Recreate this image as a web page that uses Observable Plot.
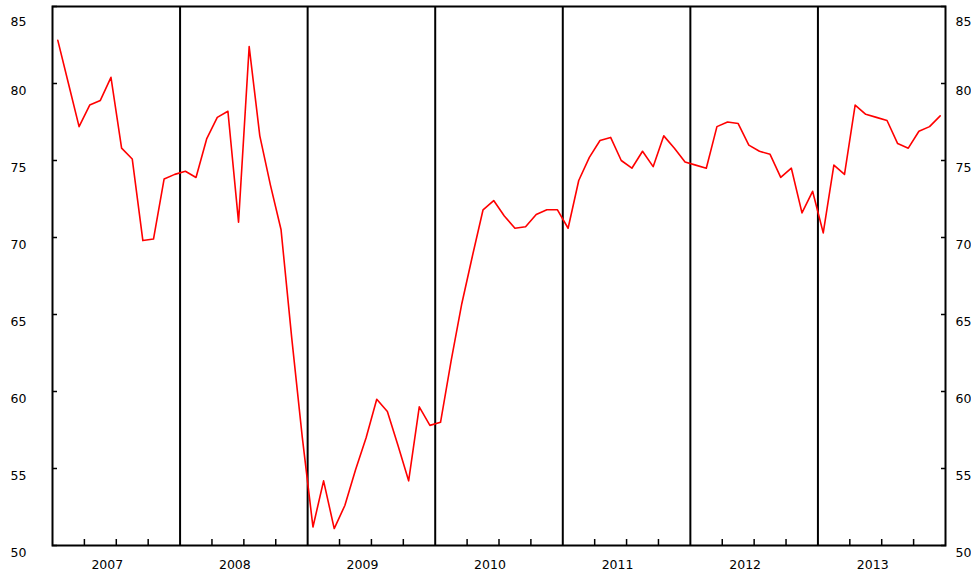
<!DOCTYPE html>
<html>
<head>
<meta charset="utf-8">
<script src="https://cdn.jsdelivr.net/npm/d3@7"></script>
<script src="https://cdn.jsdelivr.net/npm/@observablehq/plot@0.6"></script>
<style>
  html, body { margin: 0; padding: 0; background: #fff; }
  #chart svg { display: block; }
</style>
</head>
<body>
<div id="chart"></div>
<script>
// Monthly values, one array per year (Jan..Dec)
const years = [2007, 2008, 2009, 2010, 2011, 2012, 2013];
const v2007 = [82.8, 80.0, 77.2, 78.6, 78.9, 80.4, 75.8, 75.1, 69.8, 69.9, 73.8, 74.1];
const v2008 = [74.3, 73.9, 76.4, 77.8, 78.2, 71.0, 82.4, 76.6, 73.4, 70.5, 63.5, 57.0];
const v2009 = [51.2, 54.2, 51.1, 52.6, 54.9, 57.0, 59.5, 58.7, 56.5, 54.2, 59.0, 57.8];
const v2010 = [58.0, 62.0, 65.7, 68.8, 71.8, 72.4, 71.4, 70.6, 70.7, 71.5, 71.8, 71.8];
const v2011 = [70.6, 73.7, 75.2, 76.3, 76.5, 75.0, 74.5, 75.6, 74.6, 76.6, 75.8, 74.9];
const v2012 = [74.7, 74.5, 77.2, 77.5, 77.4, 76.0, 75.6, 75.4, 73.9, 74.5, 71.6, 73.0];
const v2013 = [70.3, 74.7, 74.1, 78.6, 78.0, 77.8, 77.6, 76.1, 75.8, 76.9, 77.2, 77.9];
const yTicks = [50, 55, 60, 65, 70, 75, 80];
const yTopTick = [85];

const series = [v2007, v2008, v2009, v2010, v2011, v2012, v2013];
const data = [];
years.forEach((yr, i) => series[i].forEach((v, m) => data.push({x: yr + (m + 0.5) / 12, v})));

const boundaries = years.slice(1);
const quarterTicks = years.flatMap(y => [y + 0.25, y + 0.5, y + 0.75]);
const yearMids = years.map(y => y + 0.5);
const allY = yTicks.concat(yTopTick);

const chart = Plot.plot({
  width: 971,
  height: 574,
  marginLeft: 52,
  marginRight: 26,
  marginTop: 6,
  marginBottom: 29,
  x: {domain: [2007, 2014]},
  y: {domain: [50, 85]},
  style: {fontFamily: "DejaVu Sans", fontSize: "12.5px", color: "#000", background: "#fff"},
  marks: [
    Plot.ruleX(boundaries, {stroke: "#000", strokeWidth: 2}),
    Plot.line(data, {x: "x", y: "v", stroke: "#ff0000", strokeWidth: 1.6}),
    Plot.frame({stroke: "#000", strokeWidth: 2}),
    // inward ticks
    Plot.axisY(allY, {anchor: "left", tickSize: 5, dx: 5, tickFormat: () => "", label: null, strokeWidth: 1.5}),
    Plot.axisY(allY, {anchor: "right", tickSize: 5, dx: -5, tickFormat: () => "", label: null, strokeWidth: 1.5}),
    Plot.axisX(quarterTicks, {anchor: "bottom", tickSize: 6, dy: -6, tickFormat: () => "", label: null, strokeWidth: 1.5}),
    // labels
    Plot.axisY(yTicks, {anchor: "left", tickSize: 0, tickPadding: 26, dy: 7, label: null}),
    Plot.axisY(yTopTick, {anchor: "left", tickSize: 0, tickPadding: 26, dy: 15, label: null}),
    Plot.axisY(yTicks, {anchor: "right", tickSize: 0, tickPadding: 10, dy: 7, label: null}),
    Plot.axisY(yTopTick, {anchor: "right", tickSize: 0, tickPadding: 10, dy: 15, label: null}),
    Plot.axisX(yearMids, {anchor: "bottom", tickSize: 0, tickPadding: 15, dx: -9, tickFormat: d => String(Math.floor(d)), label: null})
  ]
});
document.getElementById("chart").appendChild(chart);
</script>
</body>
</html>
